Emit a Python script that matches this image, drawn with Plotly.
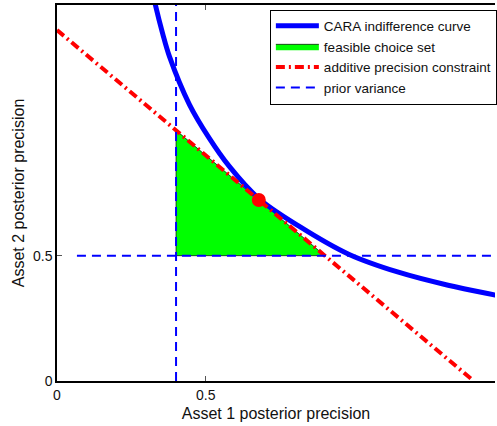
import plotly.graph_objects as go

# ---- data ----
curve_x = [0.32, 0.331, 0.355, 0.378, 0.445, 0.512, 0.579, 0.676, 0.813, 0.980, 1.147, 1.314, 1.472, 1.55]
curve_y = [1.56, 1.498, 1.386, 1.294, 1.103, 0.968, 0.856, 0.730, 0.618, 0.506, 0.434, 0.382, 0.343, 0.325]

feasible_x = [0.4, 0.4, 0.9, 0.4]
feasible_y = [0.5, 1.0, 0.5, 0.5]

constraint_x = [0.0, 1.4]
constraint_y = [1.4, 0.0]

prior_v_x = [0.4, 0.4]
prior_v_y = [0.0, 1.5]
prior_h_x = [0.067, 1.6]
prior_h_y = [0.5, 0.5]

optimum_x = [0.678]
optimum_y = [0.722]

tick_vals = [0, 0.5]
tick_text = ["0", "0.5"]

FONT = "Liberation Sans, Arial, Helvetica, sans-serif"

fig = go.Figure()

fig.add_trace(go.Scatter(
    x=feasible_x, y=feasible_y, mode="lines", fill="toself",
    fillcolor="#00ff00", line=dict(color="black", width=0.7),
    name="feasible choice set", legendrank=2))

fig.add_trace(go.Scatter(
    x=curve_x, y=curve_y, mode="lines", line=dict(color="#0000ff", width=5, shape="spline"),
    name="CARA indifference curve", legendrank=1))

fig.add_trace(go.Scatter(
    x=constraint_x, y=constraint_y, mode="lines",
    line=dict(color="#ff0000", width=4, dash="9px,4px,2px,4px"),
    name="additive precision constraint", legendrank=3))

fig.add_trace(go.Scatter(
    x=prior_v_x, y=prior_v_y, mode="lines",
    line=dict(color="#0000ff", width=2, dash="9px,6px"),
    name="prior variance", legendrank=4))
fig.add_trace(go.Scatter(
    x=prior_h_x, y=prior_h_y, mode="lines",
    line=dict(color="#0000ff", width=2, dash="9px,6px"),
    name="prior variance", showlegend=False))

fig.add_trace(go.Scatter(
    x=optimum_x, y=optimum_y, mode="markers",
    marker=dict(color="#ff0000", size=14, line=dict(width=0)),
    showlegend=False))

fig.update_layout(
    width=497, height=426,
    margin=dict(l=57, r=0, t=5, b=45),
    paper_bgcolor="white", plot_bgcolor="white",
    font=dict(family=FONT, color="#111111", size=14),
    showlegend=True,
    legend=dict(
        x=0.486, xanchor="left", y=0.988, yanchor="top",
        bgcolor="white", bordercolor="black", borderwidth=1,
        font=dict(size=13.5, family=FONT, color="#111111"),
        tracegroupgap=0, itemwidth=43,
    ),
)

fig.update_xaxes(
    range=[0, 1.4716], tickvals=tick_vals, ticktext=tick_text,
    showline=True, linecolor="black", linewidth=1.5, mirror="ticks",
    ticks="inside", ticklen=5, tickcolor="#555555",
    showgrid=False, zeroline=False,
    title=dict(text="Asset 1 posterior precision", font=dict(size=16), standoff=6),
)
fig.update_yaxes(
    range=[0, 1.5], tickvals=tick_vals, ticktext=tick_text,
    showline=True, linecolor="black", linewidth=1.5, mirror=False,
    ticks="inside", ticklen=5, tickcolor="#555555",
    showgrid=False, zeroline=False,
    title=dict(text="Asset 2 posterior precision", font=dict(size=16), standoff=4),
)

fig.write_html(
    "out.html",
    config={"displayModeBar": False},
    post_script="document.body.style.margin='0';document.body.style.overflow='hidden';",
)
